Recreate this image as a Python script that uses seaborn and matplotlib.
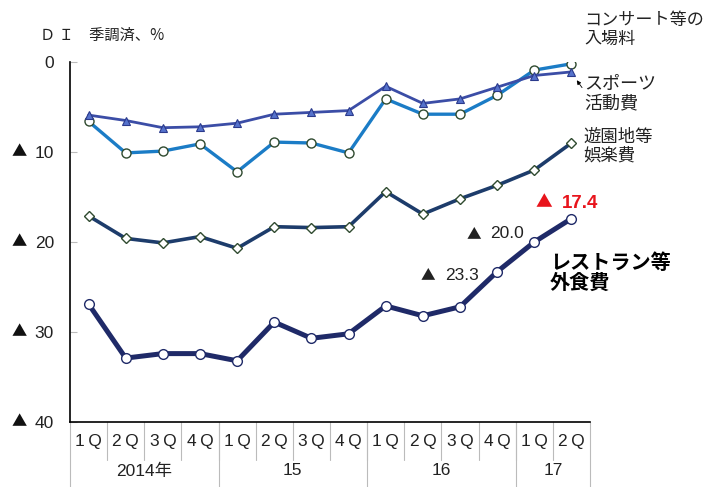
import numpy as np
import pandas as pd
import seaborn as sns
import matplotlib
matplotlib.use("Agg")
import matplotlib.pyplot as plt
from matplotlib import font_manager as fm
from matplotlib.transforms import blended_transform_factory

# ---- data ----
quarters = ["1Q", "2Q", "3Q", "4Q", "1Q", "2Q", "3Q", "4Q", "1Q", "2Q", "3Q", "4Q", "1Q", "2Q"]
years = ["2014年", "15", "16", "17"]
year_spans = [4, 4, 4, 2]
concert = [-6.6, -10.1, -9.9, -9.1, -12.2, -8.9, -9.0, -10.1, -4.1, -5.8, -5.8, -3.7, -0.9, -0.2]
sports = [-5.9, -6.5, -7.3, -7.2, -6.8, -5.8, -5.6, -5.4, -2.7, -4.6, -4.1, -2.8, -1.5, -1.1]
amuse = [-17.1, -19.6, -20.1, -19.4, -20.7, -18.3, -18.4, -18.3, -14.4, -16.9, -15.2, -13.7, -12.0, -9.0]
restaurant = [-26.9, -32.9, -32.4, -32.4, -33.2, -28.9, -30.7, -30.2, -27.1, -28.2, -27.2, -23.3, -20.0, -17.4]
yticks = [0, -10, -20, -30, -40]
ytick_nums = ["0", "10", "20", "30", "40"]
ytick_neg = [False, True, True, True, True]

sns.set_theme(style="white")
avail = {f.name for f in fm.fontManager.ttflist}
narrow = "Liberation Sans Narrow" if "Liberation Sans Narrow" in avail else "Liberation Sans"
NUMF = [narrow, "Noto Sans CJK JP", "DejaVu Sans"]
JPF = ["Noto Sans CJK JP", "DejaVu Sans"]
plt.rcParams["font.family"] = NUMF

fig = plt.figure(figsize=(7.05, 4.87), dpi=100)
ax = fig.add_axes([70 / 705, 1 - 422 / 487, 520 / 705, 360 / 487])

x = np.arange(len(quarters))
df = pd.DataFrame({"x": x, "concert": concert, "sports": sports,
                   "amuse": amuse, "restaurant": restaurant})

sns.lineplot(data=df, x="x", y="concert", ax=ax, color="#1b7cc6", lw=2.4,
             marker="o", ms=6.5, mfc="white", mec="#2f4a2f", mew=1.0, zorder=3)
sns.lineplot(data=df, x="x", y="sports", ax=ax, color="#3b4da6", lw=2.0,
             marker="^", ms=6, mfc="#5572cc", mec="#2b3a8c", mew=0.8, zorder=4)
sns.lineplot(data=df, x="x", y="amuse", ax=ax, color="#1d3c6b", lw=2.6,
             marker="D", ms=5, mfc="white", mec="#2f4a2f", mew=1.0, zorder=3)
sns.lineplot(data=df, x="x", y="restaurant", ax=ax, color="#1f2a68", lw=3.6,
             marker="o", ms=7, mfc="white", mec="#1f2a68", mew=1.0, zorder=5)

ax.set_xlim(-0.5, len(quarters) - 0.5)
ax.set_ylim(-40, 0)
ax.set_xlabel("")
ax.set_ylabel("")
ax.set_yticks(yticks)
ax.set_yticklabels(ytick_nums, fontsize=12.5, color="#222222")
ax.tick_params(axis="y", direction="in", length=5, width=0.8, color="#bbbbbb", pad=11.5, left=True)
ax.set_xticks([])
for s in ["top", "right"]:
    ax.spines[s].set_visible(False)
for s in ["left", "bottom"]:
    ax.spines[s].set_color("black")
    ax.spines[s].set_linewidth(1.2)

# ▲ (minus) signs of the y tick labels
try_y = blended_transform_factory(ax.transAxes, ax.transData)
for yv, neg in zip(yticks, ytick_neg):
    if neg:
        ax.text(-0.098, yv, "▲", transform=try_y, ha="center", va="center",
                fontsize=11, color="#111111", family=JPF)

# two-level x labels
tr = blended_transform_factory(ax.transData, ax.transAxes)
for i, q in enumerate(quarters):
    ax.text(i, -0.053, q[0] + "\u2009" + q[1], transform=tr, ha="center", va="center",
            fontsize=12.5, color="#222222", family=[narrow, "DejaVu Sans"])
    if i > 0:
        ax.plot([i - 0.5, i - 0.5], [0, -0.105], transform=tr, color="#bbbbbb", lw=0.8, clip_on=False)
start = 0
for yl, sp in zip(years, year_spans):
    ax.text(start + sp / 2 - 0.5, -0.136, yl, transform=tr, ha="center", va="center",
            fontsize=12.5, color="#222222", family=NUMF)
    ax.plot([start - 0.5, start - 0.5], [0, -0.19], transform=tr, color="#bbbbbb", lw=0.8, clip_on=False)
    start += sp
ax.plot([start - 0.5, start - 0.5], [0, -0.19], transform=tr, color="#bbbbbb", lw=0.8, clip_on=False)

# header
fig.text(40 / 705, 1 - 35 / 487, "Ｄ Ｉ　季調済、%", ha="left", va="center", fontsize=11,
         color="#222222", family=JPF)

# series labels
ax.text(13.34, 3.6, "コンサート等の\n入場料", ha="left", va="center", fontsize=12.3,
        family=JPF, color="#222222", linespacing=1.1)
ax.text(13.34, -3.56, "スポーツ\n活動費", ha="left", va="center", fontsize=13,
        family=JPF, color="#222222", linespacing=1.1)
ax.text(13.31, -9.39, "遊園地等\n娯楽費", ha="left", va="center", fontsize=12.5,
        family=JPF, color="#222222", linespacing=1.05)
ax.text(12.42, -23.4, "レストラン等\n外食費", ha="left", va="center", fontsize=14.5,
        family=JPF, color="black", fontweight="bold", linespacing=0.95)

ax.annotate("", xy=(13.10, 0.22), xytext=(13.33, 1.2),
            arrowprops=dict(arrowstyle="-|>", color="black", lw=0.6, mutation_scale=6))
ax.annotate("", xy=(13.10, -1.78), xytext=(13.33, -3.1),
            arrowprops=dict(arrowstyle="-|>", color="black", lw=0.6, mutation_scale=6))

# value labels
ax.text(12.02, -15.67, "▲", ha="left", va="center", fontsize=12, color="#e8141c", family=JPF)
ax.text(12.75, -15.67, "17.4", ha="left", va="center", fontsize=13.5, color="#e8141c",
        fontweight="bold")
ax.text(10.18, -19.1, "▲", ha="left", va="center", fontsize=10.5, color="#222222", family=JPF)
ax.text(10.81, -19.1, "20.0", ha="left", va="center", fontsize=12.5, color="#222222")
ax.text(8.94, -23.67, "▲", ha="left", va="center", fontsize=10.5, color="#222222", family=JPF)
ax.text(9.6, -23.67, "23.3", ha="left", va="center", fontsize=12.5, color="#222222")

fig.savefig("out.png", dpi=100)
